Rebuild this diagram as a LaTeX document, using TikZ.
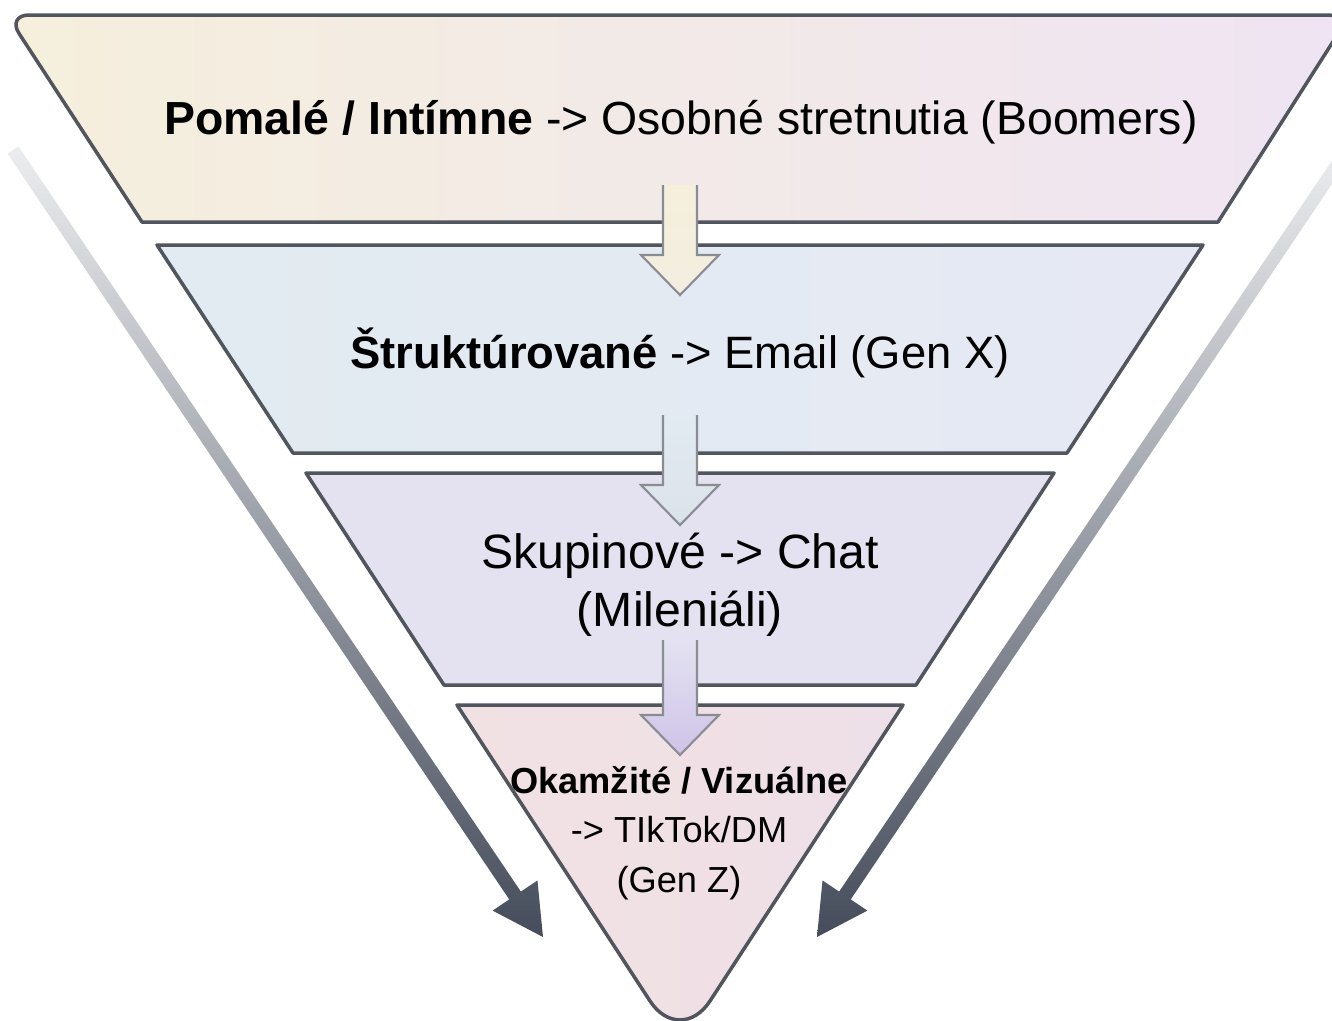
\documentclass[tikz,border=0pt]{standalone}
\usepackage{fontspec}
\setmainfont{Liberation Sans}
\usetikzlibrary{calc}

\definecolor{edgegray}{HTML}{50555E}
\definecolor{arrgray}{HTML}{8A8C94}
\definecolor{bandAl}{HTML}{F5EFDC}
\definecolor{bandAr}{HTML}{EFE4F3}
\definecolor{bandBl}{HTML}{E2EBF1}
\definecolor{bandBr}{HTML}{E6E9F4}
\definecolor{bandC}{HTML}{E4E2F1}
\definecolor{bandDl}{HTML}{F2E1E3}
\definecolor{bandDr}{HTML}{EEE0E8}
\definecolor{arrA}{HTML}{F3EEE0}
\definecolor{arrB}{HTML}{DCE2EA}
\definecolor{arrC}{HTML}{CFC3E8}
\definecolor{sidetop}{HTML}{ECEDEF}
\definecolor{sidebot}{HTML}{454C5B}

\begin{document}
\begin{tikzpicture}[x=0.01cm, y=-0.01cm,
        band/.style={draw=edgegray, line width=1pt, line join=round},
        downarr/.style={draw=arrgray, line width=0.6pt},
        sidearr/.style={top color=sidetop, bottom color=sidebot},
        lbl/.style={text=black, align=center, inner sep=0pt}]

    \useasboundingbox (0,0) rectangle (1332,1020);
    \fill[white] (0,0) rectangle (1332,1020);

    % side arrows
    \coordinate (lstart) at (13,150);
    \coordinate (ltip) at (543,937);
    \coordinate (rstart) at (1347,150);
    \coordinate (rtip) at (817,937);
    \foreach \s/\t in {lstart/ltip, rstart/rtip} {
        \coordinate (hb) at ($(\t)!0.5cm!(\s)$);
        \shade[sidearr] ($(\s)!0.065cm!90:(\t)$) -- ($(hb)!0.07cm!-90:(\s)$)
            -- ($(hb)!0.27cm!-90:(\s)$) -- (\t) -- ($(hb)!0.27cm!90:(\s)$)
            -- ($(hb)!0.07cm!90:(\s)$) -- ($(\s)!0.065cm!-90:(\t)$) -- cycle;
    }

    % bands
    \coordinate (b1tl) at (7,15);
    \coordinate (b1tr) at (1350,15);
    \coordinate (b1bl) at (142,222);
    \coordinate (b1br) at (1218,222);
    \coordinate (c1) at ($(b1tl)!0.22cm!(b1bl)$);
    \coordinate (c2) at ($(b1tl)!0.22cm!(b1tr)$);
    \coordinate (c3) at ($(b1tr)!0.22cm!(b1tl)$);
    \coordinate (c4) at ($(b1tr)!0.22cm!(b1br)$);
    \draw[band, left color=bandAl, right color=bandAr]
        (b1bl) -- (c1) .. controls ($(c1)!0.55!(b1tl)$) and ($(c2)!0.55!(b1tl)$) .. (c2)
        -- (c3) .. controls ($(c3)!0.55!(b1tr)$) and ($(c4)!0.55!(b1tr)$) .. (c4)
        -- (b1br) -- cycle;

    \draw[band, left color=bandBl, right color=bandBr]
        (157,245) -- (1203,245) -- (1067,453) -- (293,453) -- cycle;

    \draw[band, fill=bandC]
        (306,473) -- (1054,473) -- (916,685) -- (444,685) -- cycle;

    \coordinate (apex) at (680,1047);
    \coordinate (t1) at ($(apex)!0.55cm!(903,705)$);
    \coordinate (t2) at ($(apex)!0.55cm!(457,705)$);
    \draw[band, left color=bandDl, right color=bandDr]
        (457,705) -- (903,705) -- (t1)
        .. controls ($(t1)!0.55!(apex)$) and ($(t2)!0.55!(apex)$) .. (t2) -- cycle;

    % arrows between bands
    \foreach \ya/\yb/\ca/\cb in {185/255/bandAl/arrA, 415/485/bandBl/arrB, 640/715/bandC/arrC} {
        \path[downarr, top color=\ca, bottom color=\cb]
            (663,\ya) -- (663,\yb) -- (641,\yb) -- (680,\yb+40)
            -- (719,\yb) -- (697,\yb) -- (697,\ya);
    }

    % labels
    \node[lbl, font=\fontsize{13.2}{16}\selectfont] (tA) at (681,122)
        {\textbf{Pomalé / Intímne} -> Osobné stretnutia (Boomers)};
    \node[lbl, font=\fontsize{12.9}{16}\selectfont] (tB) at (680,353)
        {\textbf{Štruktúrované} -> Email (Gen X)};
    \node[lbl, font=\fontsize{13.7}{16.5}\selectfont] (tC) at (680,585)
        {Skupinové -> Chat\\(Mileniáli)};
    \node[lbl, font=\fontsize{10.3}{14.1}\selectfont] (tD) at (679,833)
        {\textbf{Okamžité / Vizuálne}\\-> TIkTok/DM\\(Gen Z)};
\end{tikzpicture}
\end{document}
